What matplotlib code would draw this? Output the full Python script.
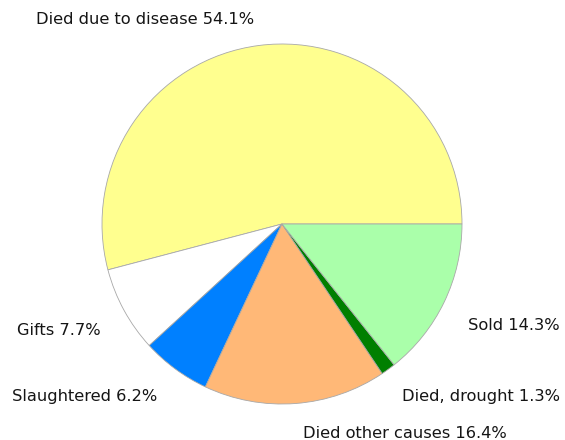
import matplotlib
matplotlib.use("Agg")
import matplotlib.pyplot as plt

categories = ["Died due to disease", "Gifts", "Slaughtered", "Died other causes", "Died, drought", "Sold"]
values = [54.1, 7.7, 6.2, 16.4, 1.3, 14.3]
colors = ["#FFFF8F", "#FFFFFF", "#0080FF", "#FFB877", "#007F00", "#AAFFAA"]

W, H = 565, 440
fig = plt.figure(figsize=(W / 100, H / 100), dpi=100)
cx, cy, r = 282, 224, 180
ax = fig.add_axes([(cx - r) / W, (H - cy - r) / H, 2 * r / W, 2 * r / H])
ax.pie(values, colors=colors, startangle=0, counterclock=True,
       wedgeprops=dict(edgecolor="#A8A8A8", linewidth=0.6))
ax.set_xlim(-1, 1)
ax.set_ylim(-1, 1)
ax.set_aspect("equal")
ax.axis("off")

# label anchor positions in pixels (x, y, ha)
label_pos = [(36, 20, "left"), (17, 330, "left"), (12, 397, "left"),
             (303, 433, "left"), (560, 397, "right"), (560, 325, "right")]
for cat, v, (px, py, ha) in zip(categories, values, label_pos):
    fig.text(px / W, 1 - py / H, f"{cat} {v:.1f}%", ha=ha, va="center",
             fontsize=11.7, family=["DejaVu Sans"], color="#151515")

fig.savefig("out.png", dpi=100)
